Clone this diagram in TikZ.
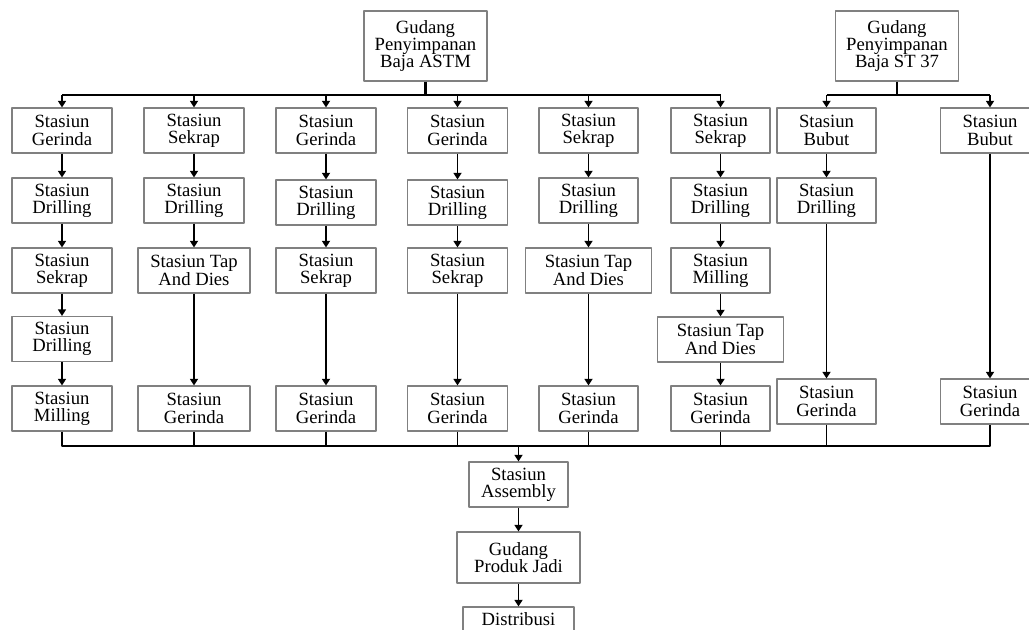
\documentclass[tikz,border=0pt]{standalone}
\usepackage{fontspec}
\setmainfont{Liberation Serif}
\usetikzlibrary{arrows.meta}

\begin{document}
\begin{tikzpicture}[x=0.75pt, y=-0.75pt, line join=round,
    stasiun/.style={draw=black!50, line width=0.8pt, align=center, inner sep=0pt,
        minimum width=#1*0.75pt, minimum height=33.75pt, font=\fontsize{14}{13}\selectfont},
    stasiun/.default=100,
    alur/.style={line width=1.3pt, -{Triangle[length=5pt,width=6pt]}},
    garis/.style={line width=1.3pt}]
    \clip (0,0) rectangle (1029,629);

    % 1. gudang bahan baku
    \node[stasiun=123, minimum height=52.5pt] (astm) at (425.5,46) {Gudang\\Penyimpanan\\Baja ASTM};
    \node[stasiun=123, minimum height=52.5pt] (st) at (897,46) {Gudang\\Penyimpanan\\Baja ST 37};

    % 2. stasiun kerja baja ASTM
    \node[stasiun] (g1) at (62,130.5) {Stasiun\\Gerinda};
    \node[stasiun] (d1) at (62,200.5) {Stasiun\\Drilling};
    \node[stasiun] (s1) at (62,270.5) {Stasiun\\Sekrap};
    \node[stasiun] (d1b) at (62,339) {Stasiun\\Drilling};
    \node[stasiun] (m1) at (62,408.5) {Stasiun\\Milling};

    \node[stasiun] (s2) at (194,130.5) {Stasiun\\Sekrap};
    \node[stasiun] (d2) at (194,200.5) {Stasiun\\Drilling};
    \node[stasiun=112] (t2) at (194,270.5) {Stasiun Tap\\And Dies};
    \node[stasiun=112] (g2) at (194,408.5) {Stasiun\\Gerinda};

    \node[stasiun] (g3) at (326,130.5) {Stasiun\\Gerinda};
    \node[stasiun] (d3) at (326,202.5) {Stasiun\\Drilling};
    \node[stasiun] (s3) at (326,270.5) {Stasiun\\Sekrap};
    \node[stasiun] (g3b) at (326,408.5) {Stasiun\\Gerinda};

    \node[stasiun] (g4) at (457.5,130.5) {Stasiun\\Gerinda};
    \node[stasiun] (d4) at (457.5,202.5) {Stasiun\\Drilling};
    \node[stasiun] (s4) at (457.5,270.5) {Stasiun\\Sekrap};
    \node[stasiun] (g4b) at (457.5,408.5) {Stasiun\\Gerinda};

    \node[stasiun=99] (s5) at (588.5,130.5) {Stasiun\\Sekrap};
    \node[stasiun=99] (d5) at (588.5,200.5) {Stasiun\\Drilling};
    \node[stasiun=126] (t5) at (588.5,270.5) {Stasiun Tap\\And Dies};
    \node[stasiun=99] (g5) at (588.5,408.5) {Stasiun\\Gerinda};

    \node[stasiun=99] (s6) at (720.5,130.5) {Stasiun\\Sekrap};
    \node[stasiun=99] (d6) at (720.5,200.5) {Stasiun\\Drilling};
    \node[stasiun=99] (m6) at (720.5,270.5) {Stasiun\\Milling};
    \node[stasiun=126] (t6) at (720.5,339.5) {Stasiun Tap\\And Dies};
    \node[stasiun=99] (g6) at (720.5,408.5) {Stasiun\\Gerinda};

    % 3. stasiun kerja baja ST 37
    \node[stasiun=99] (b7) at (826.5,130.5) {Stasiun\\Bubut};
    \node[stasiun=99] (d7) at (826.5,200.5) {Stasiun\\Drilling};
    \node[stasiun=99] (g7) at (826.5,401.5) {Stasiun\\Gerinda};

    \node[stasiun=99] (b8) at (990,130.5) {Stasiun\\Bubut};
    \node[stasiun=99] (g8) at (990,401.5) {Stasiun\\Gerinda};

    % 4. perakitan dan produk jadi
    \node[stasiun=99] (asm) at (518.5,484.5) {Stasiun\\Assembly};
    \node[stasiun=123, minimum height=38.25pt] (gpj) at (518.5,557.5) {Gudang\\Produk Jadi};
    \node[stasiun=111, minimum height=18pt] (dist) at (518.5,619) {Distribusi};

    % 5. percabangan dari gudang
    \coordinate (busA) at (425.5,95);
    \coordinate (busB) at (897,95);
    \draw[garis, line width=1.9pt] (astm.south) -- (busA);
    \draw[garis, line width=1.9pt] (st.south) -- (busB);
    \draw[garis] (g1.north |- busA) -- (s6.north |- busA);
    \draw[garis] (b7.north |- busB) -- (b8.north |- busB);
    \foreach \n in {g1,s2,g3,g4,s5,s6}
        \draw[alur] (\n.north |- busA) -- (\n.north);
    \foreach \n in {b7,b8}
        \draw[alur] (\n.north |- busB) -- (\n.north);

    % 6. alur antar stasiun
    \draw[alur] (g1) -- (d1);
    \draw[alur] (d1) -- (s1);
    \draw[alur] (s1) -- (d1b);
    \draw[alur] (d1b) -- (m1);
    \draw[alur] (s2) -- (d2);
    \draw[alur] (d2) -- (t2);
    \draw[alur] (t2) -- (g2);
    \draw[alur] (g3) -- (d3);
    \draw[alur] (d3) -- (s3);
    \draw[alur] (s3) -- (g3b);
    \draw[alur] (g4) -- (d4);
    \draw[alur] (d4) -- (s4);
    \draw[alur] (s4) -- (g4b);
    \draw[alur] (s5) -- (d5);
    \draw[alur] (d5) -- (t5);
    \draw[alur] (t5) -- (g5);
    \draw[alur] (s6) -- (d6);
    \draw[alur] (d6) -- (m6);
    \draw[alur] (m6) -- (t6);
    \draw[alur] (t6) -- (g6);
    \draw[alur] (b7) -- (d7);
    \draw[alur] (d7) -- (g7);
    \draw[alur] (b8) -- (g8);

    % 7. penggabungan ke perakitan
    \coordinate (busC) at (518.5,446);
    \draw[garis] (m1.south) |- (g8.south |- busC) -- (g8.south);
    \foreach \n in {g2,g3b,g4b,g5,g6,g7}
        \draw[garis] (\n.south) -- (\n.south |- busC);
    \draw[alur] (busC) -- (asm);
    \draw[alur] (asm) -- (gpj);
    \draw[alur] (gpj) -- (dist);

\end{tikzpicture}
\end{document}
